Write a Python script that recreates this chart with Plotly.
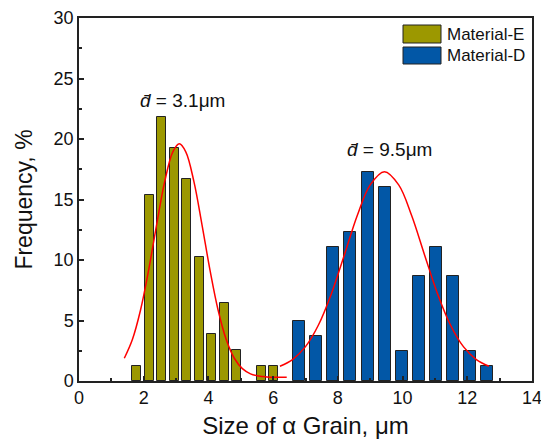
import plotly.graph_objects as go

# ---- data ----
e_x = [1.79, 2.175, 2.56, 2.945, 3.33, 3.715, 4.10, 4.485, 4.87, 5.64, 6.025]
e_y = [1.28, 15.38, 21.79, 19.23, 16.67, 10.26, 3.85, 6.41, 2.56, 1.28, 1.28]

d_x = [6.79, 7.32, 7.85, 8.38, 8.92, 9.45, 9.97, 10.50, 11.03, 11.57, 12.09, 12.62]
d_y = [4.94, 3.70, 11.11, 12.35, 17.28, 16.05, 2.47, 8.64, 11.11, 8.64, 2.47, 1.23]

e_fit_x = [1.4, 1.65, 1.9, 2.15, 2.4, 2.65, 2.9, 3.1, 3.3, 3.55, 3.8, 4.05, 4.3,
           4.55, 4.8, 5.05, 5.3, 5.55, 5.8, 6.1, 6.42]
e_fit_y = [1.88, 3.43, 5.85, 9.14, 12.93, 16.5, 18.94, 19.6, 18.94, 16.5, 12.93,
           9.14, 5.85, 3.43, 1.88, 1.02, 0.59, 0.41, 0.34, 0.31, 0.30]

d_fit_x = [6.21, 6.6, 7.0, 7.4, 7.8, 8.2, 8.6, 9.0, 9.44, 9.88, 10.28, 10.68,
           11.08, 11.48, 11.88, 12.28, 12.67]
d_fit_y = [1.22, 1.77, 2.84, 4.63, 7.22, 10.42, 13.68, 16.21, 17.3, 16.21, 13.68,
           10.42, 7.22, 4.63, 2.84, 1.77, 1.22]

x_ticks = [0, 2, 4, 6, 8, 10, 12, 14]
y_ticks = [0, 5, 10, 15, 20, 25, 30]

labels = ["Material-E", "Material-D"]
colors = ["#9c9800", "#0257a6"]
mean_labels = ["<i>d\u0304</i> = 3.1\u03bcm", "<i>d\u0304</i> = 9.5\u03bcm"]

FONT = "Liberation Sans, Arial, sans-serif"

fig = go.Figure()
fig.add_trace(go.Bar(x=e_x, y=e_y, width=0.28, name=labels[0],
                     marker=dict(color=colors[0], line=dict(color="#222", width=1)),
                     showlegend=False))
fig.add_trace(go.Bar(x=d_x, y=d_y, width=0.37, name=labels[1],
                     marker=dict(color=colors[1], line=dict(color="#222", width=1)),
                     showlegend=False))
fig.add_trace(go.Scatter(x=e_fit_x, y=e_fit_y, mode="lines", line=dict(color="red", width=1.5, shape="spline"),
                         showlegend=False))
fig.add_trace(go.Scatter(x=d_fit_x, y=d_fit_y, mode="lines", line=dict(color="red", width=1.5, shape="spline"),
                         showlegend=False))

axis_common = dict(showline=True, linecolor="#222", linewidth=1.5, mirror=True,
                   ticks="inside", ticklen=5, tickcolor="#222", tickwidth=1.5,
                   showgrid=False, zeroline=False, automargin=False,
                   tickfont=dict(family=FONT, size=18, color="#111"))

fig.update_xaxes(range=[0, 14], tickvals=x_ticks,
                 minor=dict(dtick=1, ticks="inside", ticklen=3, tickcolor="#222"),
                 title=dict(text="Size of \u03b1 Grain, \u03bcm", font=dict(family=FONT, size=24, color="#111"),
                            standoff=10),
                 **axis_common)
fig.update_yaxes(range=[0, 30], tickvals=y_ticks,
                 minor=dict(dtick=2.5, ticks="inside", ticklen=3, tickcolor="#222"),
                 title=dict(text="Frequency, %", font=dict(family=FONT, size=23, color="#111"),
                            standoff=15),
                 **axis_common)

# page body has an 8px margin: plot area in figure coords = [71, 524] x [10, 373]
PL, PR, PT, PB = 71, 524, 10, 373
PW, PH = PR - PL, PB - PT

shapes = []
annots = []
sw_y = [(25, 43), (47, 64)]
txt_y = [34, 55.5]
for i in range(2):
    shapes.append(dict(type="rect", xref="paper", yref="paper",
                       x0=(403 - 8 - PL) / PW, x1=(441 - 8 - PL) / PW,
                       y0=(PB - (sw_y[i][1] - 8)) / PH, y1=(PB - (sw_y[i][0] - 8)) / PH,
                       fillcolor=colors[i], line=dict(color="#222", width=1)))
    annots.append(dict(xref="paper", yref="paper", x=(445 - 8 - PL) / PW,
                       y=(PB - (txt_y[i] - 8)) / PH, xanchor="left", yanchor="middle",
                       text=labels[i], showarrow=False,
                       font=dict(family=FONT, size=17, color="#111")))

annots.append(dict(x=3.2, y=23.2, xref="x", yref="y", text=mean_labels[0], showarrow=False,
                   font=dict(family=FONT, size=19, color="#111")))
annots.append(dict(x=9.6, y=19.1, xref="x", yref="y", text=mean_labels[1], showarrow=False,
                   font=dict(family=FONT, size=19, color="#111")))

fig.update_layout(width=541, height=431, margin=dict(l=PL, r=541 - PR, t=PT, b=431 - PB),
                  paper_bgcolor="white", plot_bgcolor="white",
                  bargap=0, barmode="overlay", shapes=shapes, annotations=annots,
                  font=dict(family=FONT))

fig.write_html("out.html")
